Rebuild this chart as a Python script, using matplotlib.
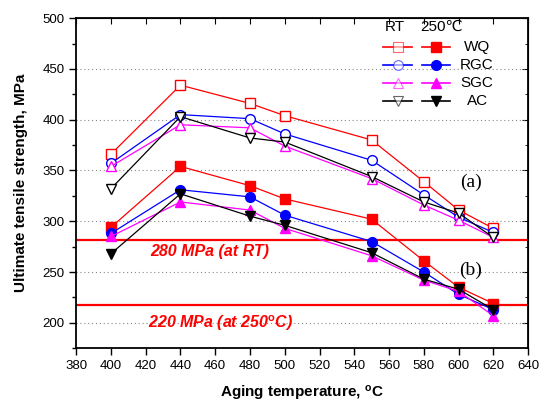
import matplotlib
matplotlib.use('Agg')
import matplotlib.pyplot as plt
import numpy as np

plt.rcParams['font.family'] = ['Liberation Sans', 'DejaVu Sans']
plt.rcParams['mathtext.fontset'] = 'custom'
plt.rcParams['mathtext.rm'] = 'Liberation Sans'
plt.rcParams['mathtext.bf'] = 'Liberation Sans:bold'
plt.rcParams['mathtext.it'] = 'Liberation Sans:italic'

# aging temperatures (C)
temps = [400, 440, 480, 500, 550, 580, 600, 620]

# tensile strength at room temperature (open markers)
rt_wq = [366, 434, 416, 404, 380, 339, 311, 293]
rt_rgc = [357, 405, 401, 386, 360, 326, 304, 289]
rt_sgc = [354, 395, 392, 374, 342, 316, 301, 284]
rt_ac = [332, 403, 382, 378, 344, 319, 308, 284]

# tensile strength at 250 C (filled markers)
ht_wq = [294, 354, 335, 322, 302, 261, 235, 219]
ht_rgc = [288, 331, 324, 306, 280, 250, 228, 213]
ht_sgc = [285, 319, 311, 293, 266, 242, 231, 207]
ht_ac = [268, 327, 305, 296, 269, 243, 233, 213]

names = ['WQ', 'RGC', 'SGC', 'AC']
colors = ['#ff0000', '#0000ff', '#ff00ff', '#000000']
markers = ['s', 'o', '^', 'v']
rt_all = [rt_wq, rt_rgc, rt_sgc, rt_ac]
ht_all = [ht_wq, ht_rgc, ht_sgc, ht_ac]

req_rt = 282
req_ht = 218

fig = plt.figure(figsize=(5.4, 4.03), dpi=100)
ax = fig.add_axes([0.141, 0.136, 0.837, 0.819])

ax.axhline(req_rt, color='#ff0000', lw=1.6, zorder=1)
ax.axhline(req_ht, color='#ff0000', lw=1.6, zorder=1)

for i in range(4):
    ax.plot(temps, rt_all[i], color=colors[i], lw=0.9, marker=markers[i], ms=7,
            mfc='white', mec=colors[i], mew=1.0, zorder=3)
    ax.plot(temps, ht_all[i], color=colors[i], lw=0.9, marker=markers[i], ms=7,
            mfc=colors[i], mec=colors[i], zorder=3)

ax.text(457, 270, '280 MPa (at RT)', color='#ff0000', fontsize=11.5,
        fontweight='bold', fontstyle='italic', ha='center', va='center')
ax.text(463, 200, r'220 MPa (at 250$^{\mathbf{o}}$C)', color='#ff0000', fontsize=11.5,
        fontweight='bold', fontstyle='italic', ha='center', va='center')
ax.text(607, 338, '(a)', fontsize=14, family='Liberation Serif', ha='center', va='center')
ax.text(607, 252, '(b)', fontsize=14, family='Liberation Serif', ha='center', va='center')

# hand made legend
tr = ax.transAxes
def axx(px):
    return (px - 76) / 452.0
def axy(py):
    return (348 - py) / 330.0

ax.text(axx(395), axy(27), 'RT', transform=tr, fontsize=11, ha='center', va='center')
ax.text(axx(441), axy(27), '250℃', transform=tr, fontsize=11, ha='center', va='center',
        family=['Liberation Sans', 'DejaVu Sans'])
rows = [47, 65, 83, 101]
for i in range(4):
    y = axy(rows[i])
    ax.plot([axx(383), axx(412)], [y, y], transform=tr, color=colors[i], lw=1.2)
    ax.plot([axx(397.5)], [y], transform=tr, marker=markers[i], ms=7, mfc='white',
            mec=colors[i], mew=0.8, alpha=0.6, ls='none')
    ax.plot([axx(422), axx(450)], [y, y], transform=tr, color=colors[i], lw=1.2)
    ax.plot([axx(436)], [y], transform=tr, marker=markers[i], ms=7, mfc=colors[i],
            mec=colors[i], ls='none')
    ax.text(axx(477), y, names[i], transform=tr, fontsize=11, ha='center', va='center')

ax.set_xlim(380, 640)
ax.set_ylim(175, 500)
ax.set_xticks(np.arange(380, 641, 20))
ax.set_yticks(np.arange(200, 501, 50))
ax.set_yticks(np.arange(175, 500, 25), minor=True)
ax.yaxis.grid(True, which='major', ls=(0, (1, 2.5)), color='#888888', lw=0.8)
ax.set_axisbelow(True)

ax.tick_params(axis='both', which='major', labelsize=9.5, direction='out', length=5,
               width=1.0, top=False, right=False)
ax.tick_params(axis='y', which='minor', direction='out', length=3, width=1.0)
for s in ax.spines.values():
    s.set_linewidth(1.3)

# inward ticks on top and right
sec = ax.secondary_xaxis('top')
sec.set_xticks(np.arange(380, 641, 20))
sec.tick_params(direction='in', length=4, labeltop=False)
sec.set_xticklabels([])
secy = ax.secondary_yaxis('right')
secy.set_yticks(np.arange(200, 501, 50))
secy.set_yticks(np.arange(175, 500, 25), minor=True)
secy.tick_params(which='major', direction='in', length=4)
secy.tick_params(which='minor', direction='in', length=2.5)
secy.set_yticklabels([])

ax.set_ylabel('Ultimate tensile strength, MPa', fontsize=11, fontweight='bold', labelpad=10)
ax.set_xlabel(r'Aging temperature, $^{\mathbf{o}}$C', fontsize=11, fontweight='bold',
              labelpad=9)

fig.savefig('out.png', dpi=100)
